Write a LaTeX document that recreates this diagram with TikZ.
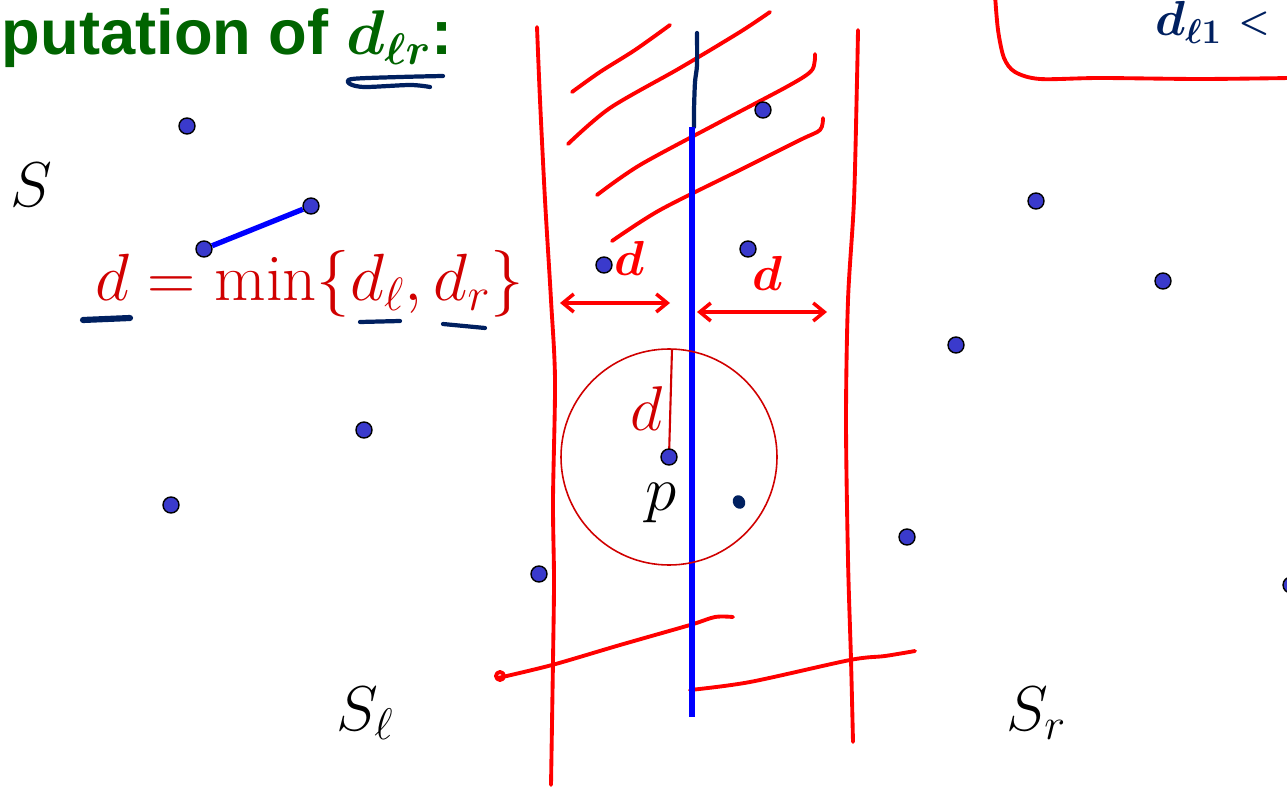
\RequirePackage{fix-cm}
\documentclass[tikz,border=0pt]{standalone}
\usepackage{amsmath}
\usepackage{fontspec}
\newfontfamily\titlefont{Liberation Sans}
\usepackage{tikz}
\usetikzlibrary{arrows.meta, positioning}

\definecolor{ptblue}{RGB}{58,58,204}
\definecolor{inkred}{RGB}{255,0,0}
\definecolor{mathred}{RGB}{208,0,0}
\definecolor{inknavy}{RGB}{0,32,96}
\definecolor{titlegreen}{RGB}{0,100,0}

\begin{document}
\begin{tikzpicture}[x=0.02cm, y=-0.02cm,
      pt/.style={circle, draw=black, line width=0.8pt, fill=ptblue, inner sep=0pt, minimum size=0.32cm},
      ink/.style={draw=inkred, line width=2.2pt, line cap=round, line join=round},
      navyink/.style={draw=inknavy, line width=2.4pt, line cap=round, line join=round},
      big/.style={inner sep=0pt, font=\fontsize{36}{40}\selectfont},
      hand/.style={inner sep=0pt, text=inkred, font=\fontsize{28}{32}\selectfont},
      twohead/.style={ink, line width=2pt, {Straight Barb[length=0.22cm, width=0.36cm]}-{Straight Barb[length=0.22cm, width=0.36cm]}},
    ]
    \useasboundingbox (0,0) rectangle (1287,787);
    \clip (0,0) rectangle (1287,787);

    % Texts
    \node[inner sep=0pt, anchor=base west, text=titlegreen, font=\titlefont\bfseries\fontsize{36}{40}\selectfont] (title) at (-139,55) {Computation of $\boldsymbol{d_{\ell r}}$:};
    \node[big, anchor=base west, text=mathred, font=\fontsize{38}{42}\selectfont] (mineq) at (95,300) {$d = \min\{d_\ell, d_r\}$};
    \node[big, anchor=base] (S) at (31,207) {$S$};
    \node[big, anchor=base west] (Sl) at (336,730) {$S_\ell$};
    \node[big, anchor=base west] (Sr) at (1006,730) {$S_r$};
    \node[inner sep=0pt, anchor=base west, text=inknavy, font=\fontsize{28}{32}\selectfont] (cond) at (1155,36) {$\boldsymbol{d_{\ell 1}}$};
    \node[inner sep=0pt, anchor=base west, text=inknavy, font=\fontsize{20}{24}\selectfont] (lt) at (1238,33) {$\boldsymbol{<}$};

    % Strip around the dividing line
    \draw[ink] plot[smooth] coordinates {(537,27) (540,100) (545,200) (551,300) (555,380) (553,500) (554,580) (553,660) (551,785)};
    \draw[ink] plot[smooth] coordinates {(858,30) (857,80) (854,200) (848,300) (846,420) (848,560) (851,660) (853,742)};
    \draw[ink] plot[smooth] coordinates {(572,92) (600,72) (635,50) (670,25)};
    \draw[ink] plot[smooth] coordinates {(568,144) (610,108) (680,68) (740,32) (770,12)};
    \draw[ink] plot[smooth] coordinates {(597,195) (640,165) (720,122) (790,85) (812,70) (815,54)};
    \draw[ink] plot[smooth] coordinates {(612,241) (660,210) (740,170) (800,140) (820,130) (823,118)};
    \draw[ink] plot[smooth] coordinates {(498,678) (552,665) (620,645) (690,625) (715,617) (733,617)};
    \draw[ink] (500,676) circle[radius=4];
    \draw[ink] plot[smooth] coordinates {(690,690) (750,682) (850,660) (885,656) (915,651)};

    % Top right box
    \draw[ink] plot[smooth] coordinates {(995,-5) (998,30) (1004,58) (1015,72) (1040,79) (1100,78) (1200,79) (1290,78)};

    % Dividing line
    \coordinate (ltop) at (697,33);
    \coordinate (lmid) at (692,127);
    \coordinate (lbot) at (692,717);
    \draw[navyink] plot[smooth] coordinates {(697,33) (697,65) (695,82) (694,110) (694,127)};
    \draw[blue, line width=3.4pt] (lmid) -- (lbot);

    % Points
    \node[pt] (a) at (187,126) {};
    \node[pt] (b) at (311,206) {};
    \node[pt] (c) at (204,249) {};
    \node[pt] (e) at (763,110) {};
    \node[pt] (f) at (1036,201) {};
    \node[pt] (g) at (748,249) {};
    \node[pt] (h) at (604,265) {};
    \node[pt] (i) at (1163,281) {};
    \node[pt] (j) at (956,345) {};
    \node[pt] (k) at (364,430) {};
    \node[pt] (m) at (171,505) {};
    \node[pt] (n) at (907,537) {};
    \node[pt] (o) at (539,574) {};
    \node[pt] (q) at (1291,585) {};
    \draw[blue, line width=3pt] (c) -- (b);

    % Circle around p
    \coordinate (pc) at (669,457);
    \draw[mathred, line width=0.9pt] (pc) circle[radius=108];
    \coordinate (ptop) at (672,349);
    \draw[mathred, line width=1.2pt] (pc) -- (ptop);
    \node[pt] (p) at (pc) {};
    \node[big, anchor=base west] (plabel) at (645,510) {$p$};
    \node[big, anchor=base west, text=mathred] (dlabel) at (630,430) {$d$};
    \fill[inknavy, rotate around={30:(739,502)}] (739,502) ellipse[x radius=6, y radius=7];

    % Widths of the strip
    \coordinate (al) at (560,303);
    \coordinate (ar) at (670,303);
    \coordinate (bl) at (697,312);
    \coordinate (br) at (827,312);
    \draw[twohead] (al) -- (ar);
    \draw[twohead] (bl) -- (br);
    \node[hand, anchor=base west] (dl) at (614,275) {$\boldsymbol{d}$};
    \node[hand, anchor=base west] (dr) at (752,290) {$\boldsymbol{d}$};

    % Underlines
    \draw[navyink] plot[smooth] coordinates {(443,76) (400,77) (352,79) (350,84) (365,87) (410,85) (430,87)};
    \draw[navyink, line width=3.5pt] (83,320) -- (130,318);
    \draw[navyink] (360,322) -- (400,321);
    \draw[navyink] (443,324) -- (485,328);

\end{tikzpicture}
\end{document}
